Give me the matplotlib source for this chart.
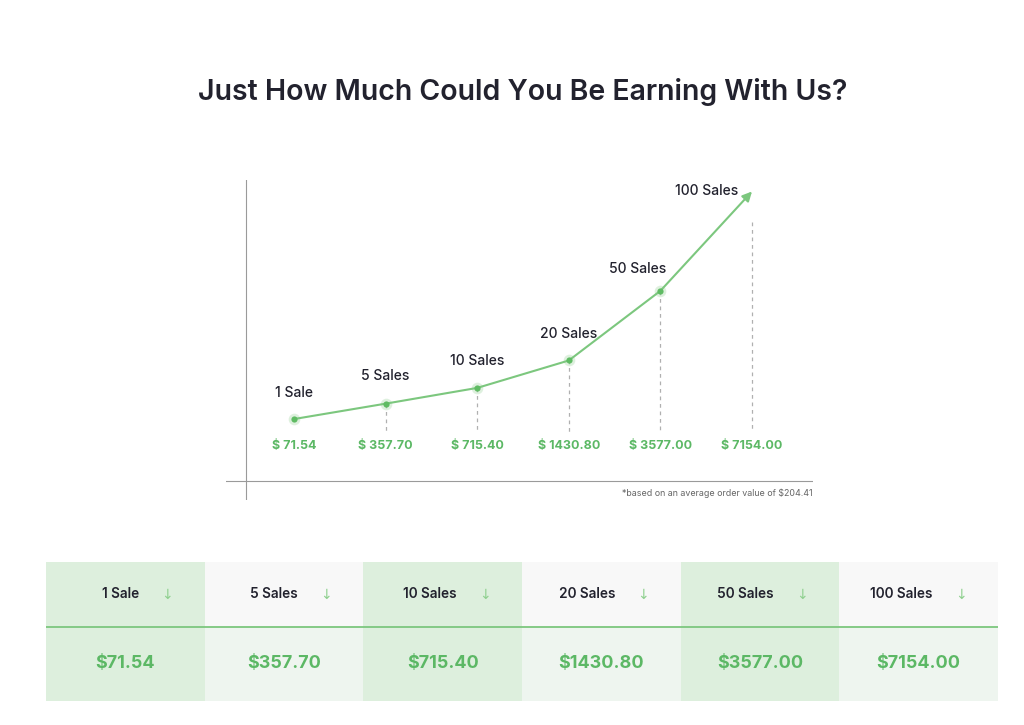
import matplotlib.pyplot as plt
import numpy as np

plt.rcParams['font.family'] = ['Inter', 'DejaVu Sans']

# data
sales_labels = ['1 Sale', '5 Sales', '10 Sales', '20 Sales', '50 Sales', '100 Sales']
earnings = [71.54, 357.70, 715.40, 1430.80, 3577.00, 7154.00]
chart_labels = ['$ 71.54', '$ 357.70', '$ 715.40', '$ 1430.80', '$ 3577.00', '$ 7154.00']
table_values = ['$71.54', '$357.70', '$715.40', '$1430.80', '$3577.00', '$7154.00']
title = 'Just How Much Could You Be Earning With Us?'
footnote = '*based on an average order value of $204.41'

green = '#7cc77e'
green_text = '#5cb865'
dark = '#22222e'

fig = plt.figure(figsize=(10.24, 7.25), dpi=100)
fig.text(0.51, 0.873, title, ha='center', va='center', fontsize=20.5,
         fontweight='semibold', color=dark)

# ---- chart (drawn on a compressed power scale) ----
ax = fig.add_axes([226 / 1024, 225 / 725, 587 / 1024, 320 / 725])
fwd = lambda v: np.sign(v) * np.abs(v) ** 0.8
inv = lambda v: np.sign(v) * np.abs(v) ** 1.25
ax.set_yscale('function', functions=(fwd, inv))
ax.set_ylim(inv(-390), inv(1272))
ax.set_xlim(-0.742, 5.666)
ax.axis('off')

x = np.arange(len(earnings))
ax.plot(x[:5], earnings[:5], color=green, lw=1.5, zorder=3)
ax.annotate('', xy=(x[5], earnings[5]), xytext=(x[4], earnings[4]),
            arrowprops=dict(arrowstyle='-|>', color=green, lw=1.5,
                            mutation_scale=14, shrinkA=0, shrinkB=0))
ax.scatter(x[:5], earnings[:5], s=70, color=green, alpha=0.25, lw=0, zorder=4)
ax.scatter(x[:5], earnings[:5], s=20, color='#5fbb63', lw=0, zorder=5)

# dashed drop lines
base = inv(-37)
for i in range(1, 5):
    ax.plot([x[i], x[i]], [earnings[i], base], ls=(0, (3, 3)), color='#b0b0b0', lw=0.9, zorder=1)
ax.plot([x[5], x[5]], [inv(fwd(earnings[5]) - 156), base], ls=(0, (3, 3)),
        color='#b0b0b0', lw=0.9, zorder=1)

# labels
offsets = [(0, 26), (0, 28), (0, 27), (0, 26), (-23, 22), (-45, 0)]
for i, lab in enumerate(sales_labels):
    ax.annotate(lab, (x[i], earnings[i]), xytext=offsets[i], textcoords='offset pixels',
                ha='center', va='center', fontsize=10, fontweight='medium', color=dark)
for i, lab in enumerate(chart_labels):
    ax.text(x[i], 0.169, lab, transform=ax.get_xaxis_transform(), ha='center',
            va='center', fontsize=9, fontweight='bold', color=green_text)

# axis lines
ax.plot([20 / 587, 20 / 587], [0, 1], transform=ax.transAxes, color='#9a9a9a', lw=0.8)
ax.plot([0, 1], [19 / 320, 19 / 320], transform=ax.transAxes, color='#9a9a9a', lw=0.8)
ax.text(1, 7 / 320, footnote, transform=ax.transAxes, ha='right', va='center',
        fontsize=6.4, color='#666666')

# ---- table ----
tb = fig.add_axes([46 / 1024, 24 / 725, 952 / 1024, 139 / 725])
tb.set_xlim(0, 6)
tb.set_ylim(0, 1)
tb.axis('off')
split = 74 / 139
cols = np.arange(len(sales_labels)) + 0.5
head_colors = ['#ddefdd' if i % 2 == 0 else '#f8f8f8' for i in range(6)]
body_colors = ['#ddefdd' if i % 2 == 0 else '#eef5ef' for i in range(6)]
tb.bar(cols, 1 - split, bottom=split, width=1, color=head_colors, lw=0)
tb.bar(cols, split, bottom=0, width=1, color=body_colors, lw=0)
tb.axhline(split, color='#7cc77e', lw=1.3)
for i, c in enumerate(cols):
    tb.text(c + 0.088, (1 + split) / 2, sales_labels[i], ha='right', va='center',
            fontsize=9.8, fontweight='semibold', color=dark)
    tb.text(c + 0.265, (1 + split) / 2, '\u2193', ha='center', va='center',
            fontsize=10, color='#8fd08f', family=['DejaVu Sans'])
    tb.text(c, split / 2, table_values[i], ha='center', va='center',
            fontsize=13, fontweight='bold', color=green_text)

fig.savefig('out.png', dpi=100)
